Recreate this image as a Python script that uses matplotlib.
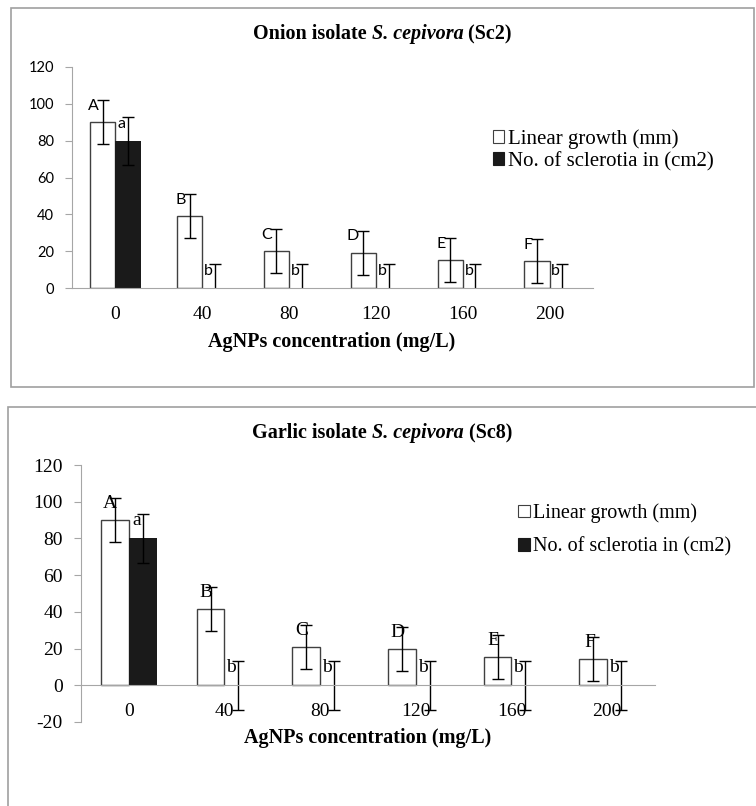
import numpy as np
import matplotlib
matplotlib.use("Agg")
import matplotlib.pyplot as plt
from matplotlib.patches import Rectangle, Patch

plt.rcParams["axes.unicode_minus"] = False

# data
conc = ["0", "40", "80", "120", "160", "200"]

onion_linear = [90, 39, 20, 19, 15, 14.5]
onion_linear_err = [12, 12, 12, 12, 12, 12]
onion_scl = [80, 0, 0, 0, 0, 0]
onion_scl_err = [13, 13, 13, 13, 13, 13]

garlic_linear = [90, 41.5, 21, 20, 15.5, 14.5]
garlic_linear_err = [12, 12, 12, 12, 12, 12]
garlic_scl = [80, 0, 0, 0, 0, 0]
garlic_scl_err = [13.5, 13.5, 13.5, 13.5, 13.5, 13.5]

upper_letters = ["A", "B", "C", "D", "E", "F"]
lower_letters = ["a", "b", "b", "b", "b", "b"]

W, H = 756, 806
SERIF = "Liberation Serif"
SANS = "Lato"
GRAY = "#a6a6a6"

fig = plt.figure(figsize=(W / 100, H / 100), dpi=100)


def fx(px):
    return px / W


def fy(py):
    return 1 - py / H


def panel_box(x0, y0, x1, y1):
    fig.patches.append(Rectangle((fx(x0), fy(y1)), fx(x1 - x0), (y1 - y0) / H,
                                 transform=fig.transFigure, fill=False,
                                 edgecolor="#a0a0a0", linewidth=1.2))


def draw_panel(ax, linear, linear_err, scl, scl_err, ymin, tickfont, tickfs,
               letterfont, letterfs, letter_dx, xpad):
    x = np.arange(len(conc))
    w = 0.29
    ax.spines["bottom"].set_position(("data", 0))
    ax.bar(x - w / 2, linear, w, color="white", edgecolor="#404040", linewidth=1.0,
           yerr=linear_err, error_kw=dict(ecolor="black", elinewidth=1.0, capsize=4,
                                          capthick=1.0), zorder=2)
    ax.bar(x + w / 2, scl, w, color="#1a1a1a", edgecolor="none", linewidth=0,
           yerr=scl_err, error_kw=dict(ecolor="black", elinewidth=1.0, capsize=4,
                                       capthick=1.0), zorder=2)
    for i in range(len(conc)):
        ax.annotate(upper_letters[i], (x[i] - w / 2, linear[i] + linear_err[i] - 3),
                    xytext=(letter_dx, 0), textcoords="offset points", ha="right",
                    va="center", family=letterfont, fontsize=letterfs, zorder=3)
        ax.annotate(lower_letters[i], (x[i] + w / 2, scl[i] + scl_err[i] - 4),
                    xytext=(-1.5, 0), textcoords="offset points", ha="right",
                    va="center", family=letterfont, fontsize=letterfs, zorder=3)
    ax.set_xlim(-0.5, len(conc) - 0.5)
    ax.set_ylim(ymin, 120)
    ax.set_yticks(np.arange(ymin, 121, 20))
    ax.set_xticks(x)
    ax.set_xticklabels(conc, family=SERIF, fontsize=14)
    for lab in ax.get_yticklabels():
        lab.set_family(tickfont)
        lab.set_fontsize(tickfs)
    ax.tick_params(axis="x", length=0, pad=xpad)
    ax.tick_params(axis="y", length=5, color=GRAY, pad=8)
    for s in ["top", "right"]:
        ax.spines[s].set_visible(False)
    ax.spines["left"].set_color(GRAY)
    ax.spines["bottom"].set_color(GRAY)
    ax.set_facecolor("none")


def two_part_title(x, y, place, code):
    t1 = fig.text(fx(x), fy(y), place + " isolate ", family=SERIF, weight="bold",
                  fontsize=14.5, ha="left", va="center")
    t2 = fig.text(0, 0, "S. cepivora", family=SERIF, weight="bold", style="italic",
                  fontsize=14.5, va="center")
    t3 = fig.text(0, 0, " (" + code + ")", family=SERIF, weight="bold",
                  fontsize=14.5, va="center")
    fig.canvas.draw()
    r = fig.canvas.get_renderer()
    bb = t1.get_window_extent(r)
    t2.set_position((bb.x1 / fig.bbox.width, fy(y)))
    bb2 = t2.get_window_extent(r)
    t3.set_position((bb2.x1 / fig.bbox.width, fy(y)))


handles = [Patch(facecolor="white", edgecolor="#404040", linewidth=0.8),
           Patch(facecolor="#1a1a1a", edgecolor="#1a1a1a", linewidth=0.8)]
labels = ["Linear growth (mm)", "No. of sclerotia in (cm2)"]

# top panel: onion
panel_box(11, 8, 754, 387)
ax1 = fig.add_axes([fx(72), fy(288), fx(593 - 72), (288 - 67) / H])
draw_panel(ax1, onion_linear, onion_linear_err, onion_scl, onion_scl_err, 0,
           SANS, 10.5, SANS, 11.5, -3, 13)
fig.text(fx(332), fy(342), "AgNPs concentration (mg/L)", family=SERIF, weight="bold",
         fontsize=14.5, ha="center", va="center")
fig.legend(handles, labels, loc="center left", bbox_to_anchor=(fx(493), fy(150)),
           frameon=False, prop=dict(family=SERIF, size=15), handlelength=0.55,
           handleheight=0.55, handletextpad=0.15, labelspacing=0.15, borderpad=0,
           borderaxespad=0)

# bottom panel: garlic
panel_box(8, 407, 760, 812)
ax2 = fig.add_axes([fx(81), fy(722), fx(655 - 81), (722 - 465) / H])
draw_panel(ax2, garlic_linear, garlic_linear_err, garlic_scl, garlic_scl_err, -20,
           SERIF, 14, SERIF, 14, 1.5, 13)
fig.text(fx(368), fy(738), "AgNPs concentration (mg/L)", family=SERIF, weight="bold",
         fontsize=14.5, ha="center", va="center")
fig.legend(handles, labels, loc="center left", bbox_to_anchor=(fx(518), fy(530)),
           frameon=False, prop=dict(family=SERIF, size=14.5), handlelength=0.6,
           handleheight=0.6, handletextpad=0.15, labelspacing=0.7, borderpad=0,
           borderaxespad=0)

two_part_title(253, 34, "Onion", "Sc2")
two_part_title(252, 433, "Garlic", "Sc8")

fig.savefig("out.png", dpi=100)
